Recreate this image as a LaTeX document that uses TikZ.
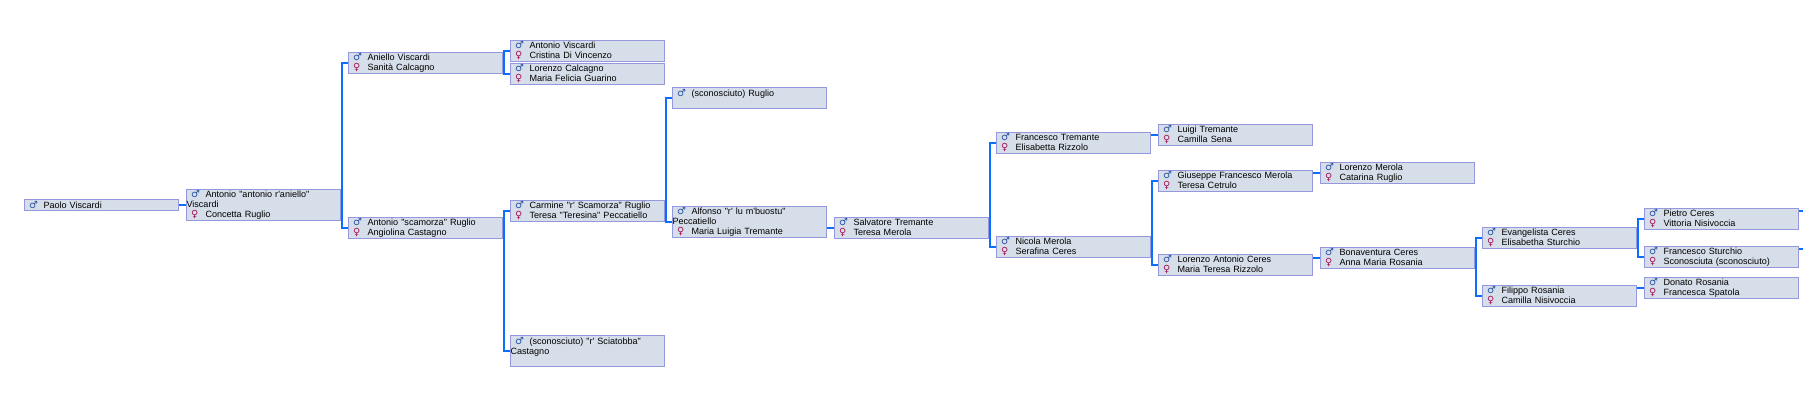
\documentclass[tikz,border=0pt]{standalone}
\usepackage{fontspec}
\newfontfamily\treefont{Liberation Sans}
\newfontfamily\symbfont{DejaVu Sans}
\usetikzlibrary{positioning}

\definecolor{boxfill}{RGB}{214,223,233}
\definecolor{boxline}{RGB}{150,152,222}
\definecolor{linkblue}{RGB}{10,110,255}
\definecolor{linkglow}{RGB}{130,235,255}
\definecolor{malecol}{RGB}{40,80,160}
\definecolor{femalecol}{RGB}{160,20,90}

% gender marks in front of a name
\newcommand{\msym}{\hspace*{3.4pt}\makebox[10.85pt][l]{\symbfont\bfseries\fontsize{7.4}{7.5}\selectfont\textcolor{malecol}{♂}}}
\newcommand{\fsym}{\hspace*{3.4pt}\makebox[10.85pt][l]{\symbfont\bfseries\fontsize{7.4}{7.5}\selectfont\textcolor{femalecol}{♀}}}

\begin{document}
\begin{tikzpicture}[x=0.75pt,y=-0.75pt,
    person/.style={rectangle,draw=boxline,fill=boxfill,line width=0.75pt,
      anchor=north west,inner sep=0pt,text width=115.5pt,minimum height=15.75pt,
      align=left,font=\treefont\fontsize{6.8}{7.5}\selectfont},
    tall/.style={minimum height=23.25pt},
    single/.style={minimum height=8.25pt},
    link/.style={draw=linkblue,line width=1.1pt,
      preaction={draw=linkglow,line width=2.1pt}}]
  \useasboundingbox (0,0) rectangle (1803,400);
  \fill[white] (0,0) rectangle (1803,400);

  % generation 0-2
  \node[person,single] (paolo) at (24,199) {\msym Paolo Viscardi};
  \node[person,tall] (antonio) at (186,189)
    {\msym Antonio "antonio r'aniello"\\Viscardi\\\fsym Concetta Ruglio};
  \node[person] (aniello) at (348,52) {\msym Aniello Viscardi\\\fsym Sanità Calcagno};
  \node[person] (scamorza) at (348,217)
    {\msym Antonio "scamorza" Ruglio\\\fsym Angiolina Castagno};

  % generation 3-4
  \node[person] (antvisc) at (510,40) {\msym Antonio Viscardi\\\fsym Cristina Di Vincenzo};
  \node[person] (calcagno) at (510,63) {\msym Lorenzo Calcagno\\\fsym Maria Felicia Guarino};
  \node[person] (carmine) at (510,200)
    {\msym Carmine "r' Scamorza" Ruglio\\\fsym Teresa "Teresina" Peccatiello};
  \node[person,tall] (sciatobba) at (510,335)
    {\msym (sconosciuto) "r' Sciatobba"\\Castagno\\\mbox{}};
  \node[person] (sconruglio) at (672,87) {\msym (sconosciuto) Ruglio\\\mbox{}};
  \node[person,tall] (alfonso) at (672,206)
    {\msym Alfonso "r' lu m'buostu"\\Peccatiello\\\fsym Maria Luigia Tremante};

  % generation 5-7
  \node[person] (salvatore) at (834,217) {\msym Salvatore Tremante\\\fsym Teresa Merola};
  \node[person] (ftremante) at (996,132) {\msym Francesco Tremante\\\fsym Elisabetta Rizzolo};
  \node[person] (nicola) at (996,236) {\msym Nicola Merola\\\fsym Serafina Ceres};
  \node[person] (luigi) at (1158,124) {\msym Luigi Tremante\\\fsym Camilla Sena};
  \node[person] (giuseppe) at (1158,170)
    {\msym Giuseppe Francesco Merola\\\fsym Teresa Cetrulo};
  \node[person] (lorenzoac) at (1158,254)
    {\msym Lorenzo Antonio Ceres\\\fsym Maria Teresa Rizzolo};

  % generation 8-10
  \node[person] (lmerola) at (1320,162) {\msym Lorenzo Merola\\\fsym Catarina Ruglio};
  \node[person] (bonaventura) at (1320,247) {\msym Bonaventura Ceres\\\fsym Anna Maria Rosania};
  \node[person] (evangelista) at (1482,227) {\msym Evangelista Ceres\\\fsym Elisabetha Sturchio};
  \node[person] (filippo) at (1482,285) {\msym Filippo Rosania\\\fsym Camilla Nisivoccia};
  \node[person] (pietro) at (1644,208) {\msym Pietro Ceres\\\fsym Vittoria Nisivoccia};
  \node[person] (fsturchio) at (1644,246)
    {\msym Francesco Sturchio\\\fsym Sconosciuta (sconosciuto)};
  \node[person] (donato) at (1644,277) {\msym Donato Rosania\\\fsym Francesca Spatola};

  % both parents
  \foreach \up/\down in {aniello/scamorza, antvisc/calcagno, carmine/sciatobba,
      sconruglio/alfonso, ftremante/nicola, giuseppe/lorenzoac,
      evangelista/filippo, pietro/fsturchio}
    \draw[link] (\up.west) -- ++(-6,0) |- (\down.west);

  % one parent only
  \draw[link] (paolo.east) -- (antonio.west);
  \draw[link] (salvatore.west -| alfonso.east) -- (salvatore.west);
  \draw[link] (luigi.west -| ftremante.east) -- (luigi.west);
  \draw[link] (lmerola.west -| giuseppe.east) -- (lmerola.west);
  \draw[link] (bonaventura.west -| lorenzoac.east) -- (bonaventura.west);
  \draw[link] (donato.west -| filippo.east) -- (donato.west);

  % going on past the right edge
  \coordinate (pietroout) at (1812,211);
  \coordinate (sturchioout) at (1812,249);
  \draw[link] (pietro.east |- pietroout) -- (pietroout);
  \draw[link] (fsturchio.east |- sturchioout) -- (sturchioout);
\end{tikzpicture}
\end{document}
